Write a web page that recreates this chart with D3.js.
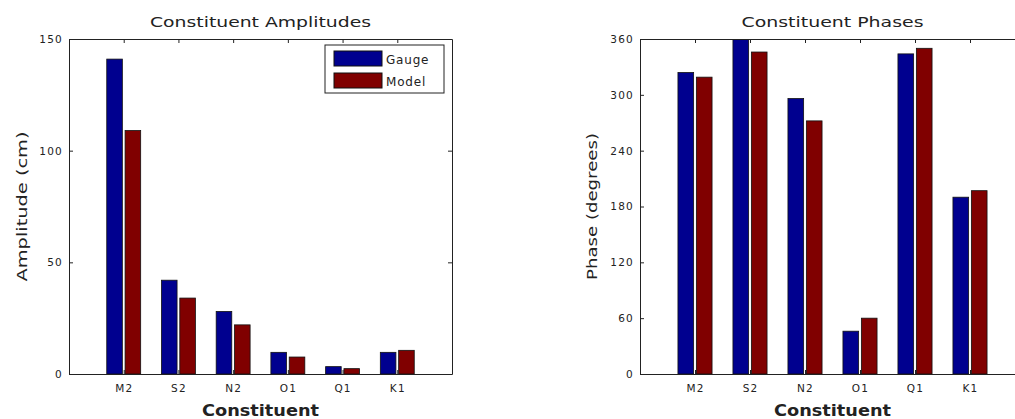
<!DOCTYPE html>
<html>
<head>
<meta charset="utf-8">
<script src="https://cdn.jsdelivr.net/npm/d3@7"></script>
<style>
  body { margin: 0; background: #fff; }
  svg { display: block; font-family: "DejaVu Sans", sans-serif; }
</style>
</head>
<body>
<script>
// data
var constituents = ["M2", "S2", "N2", "O1", "Q1", "K1"];
var gaugeAmp = [141, 42, 28, 9.7, 3.3, 9.7];
var modelAmp = [109, 34, 22, 7.6, 2.4, 10.6];
var gaugePhase = [324, 360, 296, 46, 344, 190];
var modelPhase = [319, 346, 272, 60, 350, 197];
var ampTicks = [0, 50, 100, 150];
var phaseTicks = [0, 60, 120, 180, 240, 300, 360];
var seriesNames = ["Gauge", "Model"];
var seriesColors = ["#00008f", "#800000"];

var svg = d3.select("body").append("svg")
    .attr("width", 1015)
    .attr("height", 419);

function panel(p) {
    var x = d3.scaleLinear().domain([0, constituents.length + 1]).range([p.left, p.right]);
    var y = d3.scaleLinear().domain([0, p.yMax]).range([p.bottom, p.top]);
    var g = svg.append("g");

    var clipId = "clip" + p.id;
    svg.append("clipPath").attr("id", clipId)
        .append("rect")
        .attr("x", p.left).attr("y", p.top)
        .attr("width", p.right - p.left).attr("height", p.bottom - p.top);

    // bars
    var bars = g.append("g").attr("clip-path", "url(#" + clipId + ")");
    [p.gauge, p.model].forEach(function (vals, s) {
        bars.selectAll(null)
            .data(vals)
            .enter()
            .append("rect")
            .attr("x", function (d, i) { return x(i + 1 + (s == 0 ? -0.31 : 0.025)); })
            .attr("width", x(0.285) - x(0))
            .attr("y", function (d) { return y(d); })
            .attr("height", function (d) { return y(0) - y(d); })
            .attr("fill", seriesColors[s])
            .attr("stroke", "#111")
            .attr("stroke-width", 0.8);
    });

    var idx = constituents.map(function (c, i) { return i + 1; });

    // bottom + top axis
    var xb = g.append("g")
        .attr("transform", "translate(0," + p.bottom + ")")
        .call(d3.axisBottom(x).tickValues(idx).tickSizeInner(-4).tickSizeOuter(0).tickPadding(11)
            .tickFormat(function (d) { return constituents[d - 1]; }));
    var xt = g.append("g")
        .attr("transform", "translate(0," + p.top + ")")
        .call(d3.axisTop(x).tickValues(idx).tickSizeInner(-4).tickSizeOuter(0).tickFormat(""));

    // left + right axis
    var yl = g.append("g")
        .attr("transform", "translate(" + p.left + ",0)")
        .call(d3.axisLeft(y).tickValues(p.ticks).tickSizeInner(-4).tickSizeOuter(0).tickPadding(6));
    var yr = g.append("g")
        .attr("transform", "translate(" + p.right + ",0)")
        .call(d3.axisRight(y).tickValues(p.ticks).tickSizeInner(-4).tickSizeOuter(0).tickFormat(""));

    [xb, xt, yl, yr].forEach(function (a) {
        a.select(".domain").attr("stroke", "#222");
        a.selectAll(".tick line").attr("stroke", "#222");
        a.selectAll("text").attr("font-size", 10.5).attr("fill", "#222")
            .attr("letter-spacing", "1.2px")
            .attr("font-family", "DejaVu Sans, sans-serif");
    });

    // labels, stretched sideways like the reference
    var cx = (p.left + p.right) / 2;
    svg.append("text")
        .attr("x", cx).attr("y", 27)
        .attr("text-anchor", "middle")
        .attr("font-size", 14)
        .attr("textLength", p.titleLen)
        .attr("lengthAdjust", "spacingAndGlyphs")
        .attr("fill", "#222")
        .text(p.title);
    svg.append("text")
        .attr("x", cx)
        .attr("y", 416)
        .attr("text-anchor", "middle")
        .attr("font-size", 16)
        .attr("font-weight", "bold")
        .attr("textLength", 117)
        .attr("lengthAdjust", "spacingAndGlyphs")
        .attr("fill", "#222")
        .text("Constituent");
    svg.append("text")
        .attr("transform", "translate(" + p.ylabelX + "," + (p.top + p.bottom) / 2 + ")rotate(-90)")
        .attr("text-anchor", "middle")
        .attr("font-size", 14)
        .attr("textLength", p.ylabelLen)
        .attr("lengthAdjust", "spacingAndGlyphs")
        .attr("fill", "#222")
        .text(p.ylabel);
}

panel({
    id: 1, left: 69, right: 452, top: 39, bottom: 374,
    yMax: 150, ticks: ampTicks, gauge: gaugeAmp, model: modelAmp,
    title: "Constituent Amplitudes", titleLen: 221,
    ylabel: "Amplitude (cm)", ylabelLen: 150, ylabelX: 27
});
panel({
    id: 2, left: 640, right: 1025, top: 39, bottom: 374,
    yMax: 360, ticks: phaseTicks, gauge: gaugePhase, model: modelPhase,
    title: "Constituent Phases", titleLen: 182,
    ylabel: "Phase (degrees)", ylabelLen: 147, ylabelX: 597
});

// legend on the amplitude panel
var lg = svg.append("g").attr("transform", "translate(325,45)");
lg.append("rect")
    .attr("width", 119).attr("height", 48)
    .attr("fill", "#fff").attr("stroke", "#222");
seriesNames.forEach(function (n, i) {
    lg.append("rect")
        .attr("x", 9).attr("y", 6 + i * 22)
        .attr("width", 48).attr("height", 15)
        .attr("fill", seriesColors[i]).attr("stroke", "#111");
    lg.append("text")
        .attr("x", 61).attr("y", 19 + i * 22)
        .attr("font-size", 12)
        .attr("letter-spacing", "0.8px")
        .attr("fill", "#222")
        .text(n);
});
</script>
</body>
</html>
